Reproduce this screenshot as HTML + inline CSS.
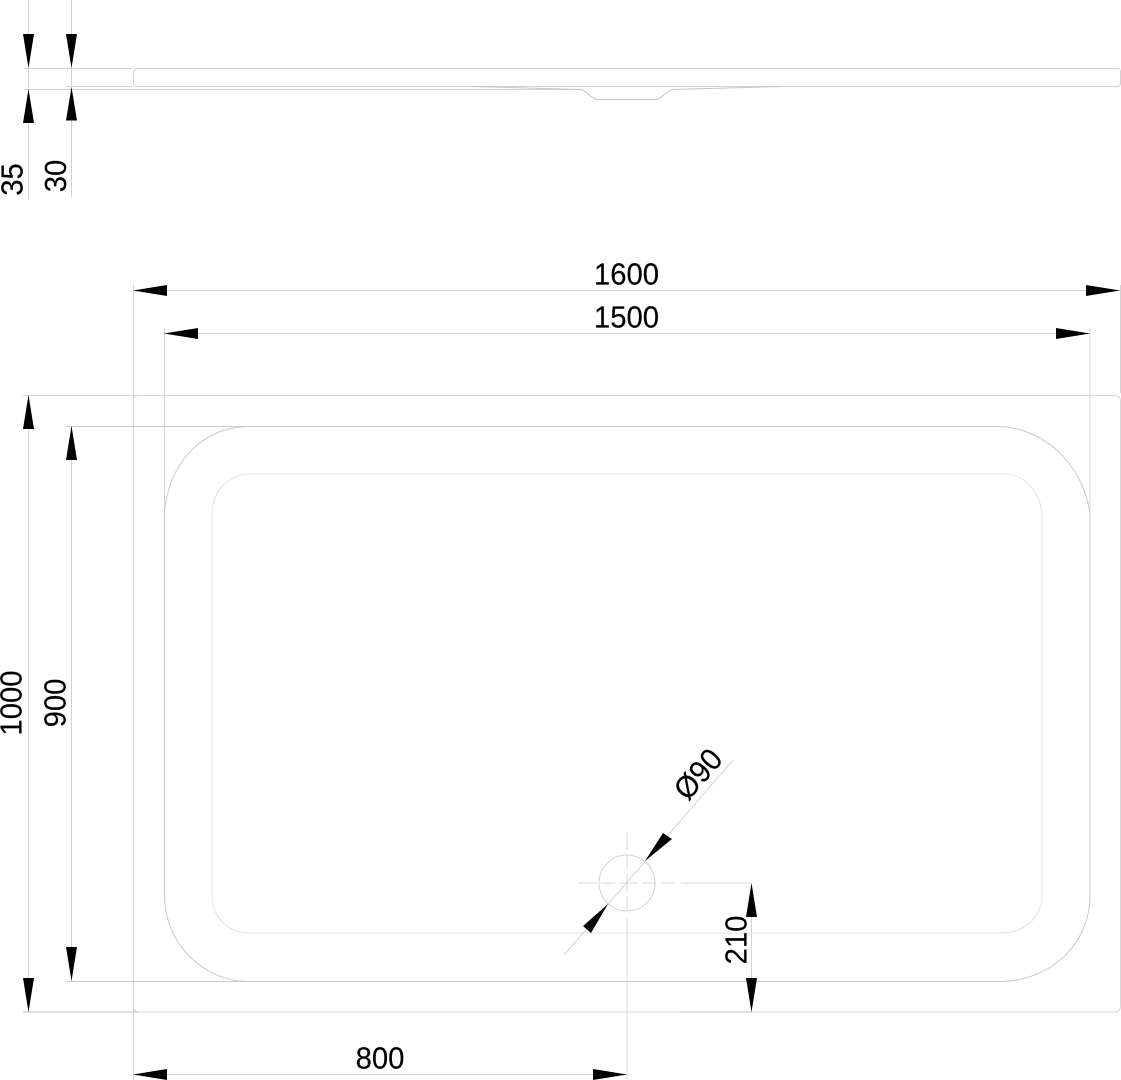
<!DOCTYPE html>
<html><head><meta charset="utf-8"><style>
html,body{margin:0;padding:0;background:#fff;width:1121px;height:1080px;overflow:hidden}
svg{display:block}
text{font-family:"Liberation Sans",sans-serif;font-size:31px;fill:#000;stroke:#000;stroke-width:.15;text-anchor:middle}
</style></head><body>
<svg width="1121" height="1080" viewBox="0 0 1121 1080" xmlns="http://www.w3.org/2000/svg">
<g fill="none" stroke="#d2d2d2" stroke-width="1">
<!-- side view -->
<path d="M28.500 0V200M71.500 0V197"/>
<rect x="133.500" y="68.500" width="987" height="18" rx="3" ry="3"/>
<path d="M24 68.500H132M67 86.500H132"/>
<path d="M24 89.500H578"/>
<path d="M472 86.500Q530 88 580 89.500L583 90L592 97Q595 99.500 598 99.500H655Q658 99.500 661 97L669 91L672 89.500Q730 88 782 86.500" stroke="#c4c4c4"/>
<!-- dimension lines -->
<path d="M133 290.500H1120M164 333.500H1090M133.500 285V1080M164.500 328V510M1090 328V510M1120.500 285V393"/>
<path d="M28.500 395V1012M71.500 426V981M751.500 883V1012M133 1074.500H627"/>
<!-- tray outer -->
<path d="M23 395.500H1115Q1120.500 395.500 1120.500 401V1006Q1120.500 1012 1115 1012H139Q133.500 1012 133.500 1006" stroke="#d8d8d8"/>
<path d="M133.500 401Q133.500 395.500 139 395.500" stroke="#d8d8d8"/>
<path d="M23 1012H139M680 1012H752" stroke="#c4c4c4"/>
<!-- tray basin -->
<path d="M67 426.500H1000C1042 428 1083 462 1090 514V895C1090 945 1050 981 1000 981.500H67" stroke="#c8c8c8"/>
<path d="M247 426.500C205 428 171 458 164.500 510V895C164.500 945 205 981 247 981.500" stroke="#c8c8c8"/>
<path d="M250 474H1004C1026 474 1042 494 1042 518V895C1042 917 1024 933 1002 933H250C228 933 212 917 212 895V514C212 492 228 474 250 474Z" stroke="#e2e2e2"/>
<!-- drain -->
<circle cx="627" cy="883" r="28"/>
<path d="M578 883H597M601 883H615M619 883H638M642 883H656M661 883H675M681 883H751" stroke="#d8d8d8"/>
<path d="M627 833V850M627 855V870M627 874V892M627 896V910M627 918V1080" stroke="#d8d8d8"/>
<path d="M564 955L733 760"/>
</g>
<g fill="#000">
<path d="M28.500 68L23 34H34ZM71.500 68L66 34H77ZM28.500 89L23 123H34ZM71.500 87L66 120.500H77Z"/>
<path d="M133 290.500L167 285V296ZM1120 290.500L1086 285V296ZM164 333.500L198 328V339ZM1090 333.500L1056 328V339Z"/>
<path d="M28.500 395L23 429H34ZM28.500 1012L23 978H34ZM71.500 426L66 460H77ZM71.500 981L66 947H77Z"/>
<path d="M751.500 883L746 917H757ZM751.500 1012L746 978H757Z"/>
<path d="M133 1074.500L167 1069V1080ZM627 1074.500L593 1069V1080Z"/>
<path d="M645 861L663 833L672 839ZM608 904L583 926L591 933Z"/>
</g>
<text transform="translate(626.500 284.500) scale(.945 1)">1600</text>
<text transform="translate(626.500 327.500) scale(.945 1)">1500</text>
<text transform="translate(380 1068.500) scale(.945 1)">800</text>
<text transform="translate(22.500 179.500) rotate(-90) scale(.945 1)">35</text>
<text transform="translate(66 176) rotate(-90) scale(.945 1)">30</text>
<text transform="translate(21.500 703) rotate(-90) scale(.945 1)">1000</text>
<text transform="translate(65.500 703) rotate(-90) scale(.945 1)">900</text>
<text transform="translate(746.500 940) rotate(-90) scale(.945 1)">210</text>
<text transform="translate(706 781) rotate(-49) scale(.945 1)">Ø90</text>
</svg>
</body></html>
